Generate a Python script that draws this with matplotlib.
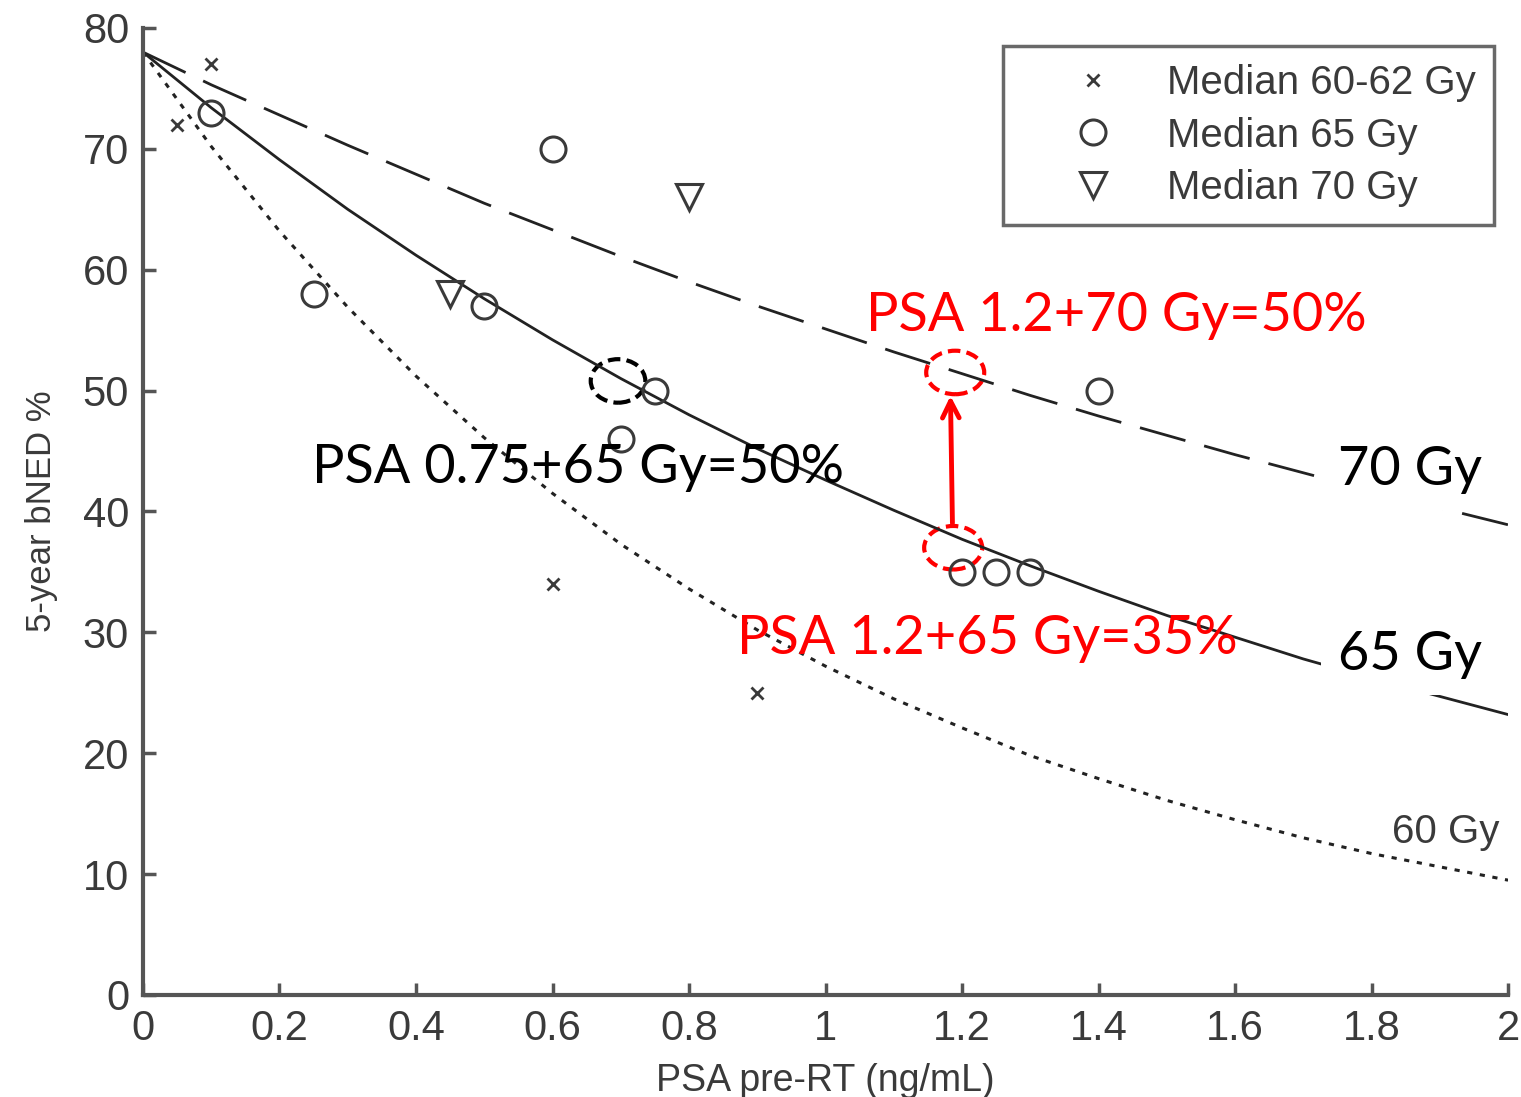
import matplotlib
matplotlib.use("Agg")
import matplotlib.pyplot as plt
from matplotlib.patches import Ellipse

# fitted curves, every 0.1 ng/mL
psa_grid = [0.0, 0.1, 0.2, 0.3, 0.4, 0.5, 0.6, 0.7, 0.8, 0.9, 1.0,
            1.1, 1.2, 1.3, 1.4, 1.5, 1.6, 1.7, 1.8, 1.9, 2.0]
curve_70 = [78.0, 75.3, 72.8, 70.3, 67.9, 65.5, 63.3, 61.1, 59.0, 57.0, 55.1,
            53.2, 51.4, 49.6, 47.9, 46.3, 44.7, 43.2, 41.7, 40.3, 38.9]
curve_65 = [78.0, 73.4, 69.1, 65.0, 61.2, 57.6, 54.2, 51.0, 48.0, 45.2, 42.6,
            40.1, 37.7, 35.5, 33.4, 31.4, 29.6, 27.8, 26.2, 24.7, 23.2]
curve_60 = [78.0, 70.2, 63.2, 56.9, 51.2, 46.1, 41.5, 37.3, 33.6, 30.2, 27.2,
            24.5, 22.1, 19.8, 17.9, 16.1, 14.5, 13.0, 11.7, 10.6, 9.5]

# study medians
x_6062 = [0.05, 0.1, 0.6, 0.9]
y_6062 = [72, 77, 34, 25]
x_65 = [0.1, 0.25, 0.5, 0.6, 0.7, 0.75, 1.2, 1.25, 1.3, 1.4]
y_65 = [73, 58, 57, 70, 46, 50, 35, 35, 35, 50]
x_70 = [0.45, 0.8]
y_70 = [58, 66]

x_ticks = [0, 0.2, 0.4, 0.6, 0.8, 1, 1.2, 1.4, 1.6, 1.8, 2]
x_ticklabels = ["0", "0.2", "0.4", "0.6", "0.8", "1", "1.2", "1.4", "1.6", "1.8", "2"]
y_ticks = [0, 10, 20, 30, 40, 50, 60, 70, 80]

gray = "#3a3a3a"
plot_font = ["Liberation Sans", "DejaVu Sans"]
note_font = ["Lato", "DejaVu Sans"]

fig = plt.figure(figsize=(15.21, 10.97), dpi=100)
ax = fig.add_axes([0.094, 0.093, 0.8975, 0.8815])

ax.plot(psa_grid, curve_70, color="#222222", lw=2.0, dashes=(17, 7))
ax.plot(psa_grid, curve_65, color="#222222", lw=2.0)
ax.plot(psa_grid, curve_60, color="#222222", lw=2.2, dashes=(1.7, 2.5))

ax.plot(x_6062, y_6062, ls="none", marker="x", ms=9, mew=2.0, color=gray,
        label="Median 60-62 Gy")
ax.plot(x_65, y_65, ls="none", marker="o", ms=18, mew=2.2, mfc="none", mec=gray,
        label="Median 65 Gy")
ax.plot(x_70, y_70, ls="none", marker="v", ms=19, mew=2.2, mfc="none", mec=gray,
        label="Median 70 Gy")

ax.set_xlim(0, 2)
ax.set_ylim(0, 80)
ax.set_xticks(x_ticks)
ax.set_xticklabels(x_ticklabels)
ax.set_yticks(y_ticks)
for s in ["top", "right"]:
    ax.spines[s].set_visible(False)
for s in ["left", "bottom"]:
    ax.spines[s].set_linewidth(3)
    ax.spines[s].set_color("#555555")
ax.tick_params(direction="in", length=9, width=2.5, color="#555555",
               labelsize=30, labelcolor=gray, pad=10)
for lab in ax.get_xticklabels() + ax.get_yticklabels():
    lab.set_family(plot_font)

ax.set_xlabel("PSA pre-RT (ng/mL)", fontsize=27, color=gray, family=plot_font, labelpad=10)
ax.set_ylabel("5-year bNED %", fontsize=25, color=gray, family=plot_font, labelpad=18)

leg = ax.legend(loc="upper right", bbox_to_anchor=(0.9895, 0.981),
                prop={"family": plot_font, "size": 29}, frameon=True, fancybox=False,
                handlelength=3.56, handletextpad=0.05, borderpad=0.45, labelspacing=0.35,
                borderaxespad=0)
leg.get_frame().set_edgecolor("#444444")
leg.get_frame().set_linewidth(2.5)
for t in leg.get_texts():
    t.set_color(gray)

# curve labels
ax.text(1.751, 43.5, "70 Gy", fontsize=39, family=note_font, color="black",
        va="center", bbox=dict(facecolor="white", edgecolor="none", pad=12))
ax.text(1.751, 28.2, "65 Gy", fontsize=39, family=note_font, color="black",
        va="center", bbox=dict(facecolor="white", edgecolor="none", pad=12))
ax.text(1.83, 13.5, "60 Gy", fontsize=29, family=plot_font, color=gray, va="center")

# highlights
ax.add_patch(Ellipse((0.696, 50.8), 0.08, 3.6, fill=False, ec="black", lw=3, ls=(0, (3, 1.5))))
ax.add_patch(Ellipse((1.19, 51.5), 0.085, 3.6, fill=False, ec="red", lw=3, ls=(0, (3, 1.5))))
ax.add_patch(Ellipse((1.187, 37.0), 0.085, 3.6, fill=False, ec="red", lw=3, ls=(0, (3, 1.5))))
ax.annotate("", xy=(1.183, 49.8), xytext=(1.186, 38.8),
            arrowprops=dict(arrowstyle="->", color="red", lw=3.5, mutation_scale=30))

ax.text(0.248, 43.6, "PSA 0.75+65 Gy=50%", fontsize=39, family=note_font, color="black",
        va="center")
ax.text(1.059, 56.2, "PSA 1.2+70 Gy=50%", fontsize=39, family=note_font, color="red",
        va="center")
ax.text(0.87, 29.5, "PSA 1.2+65 Gy=35%", fontsize=39, family=note_font, color="red",
        va="center")

fig.savefig("out.png", dpi=100)
